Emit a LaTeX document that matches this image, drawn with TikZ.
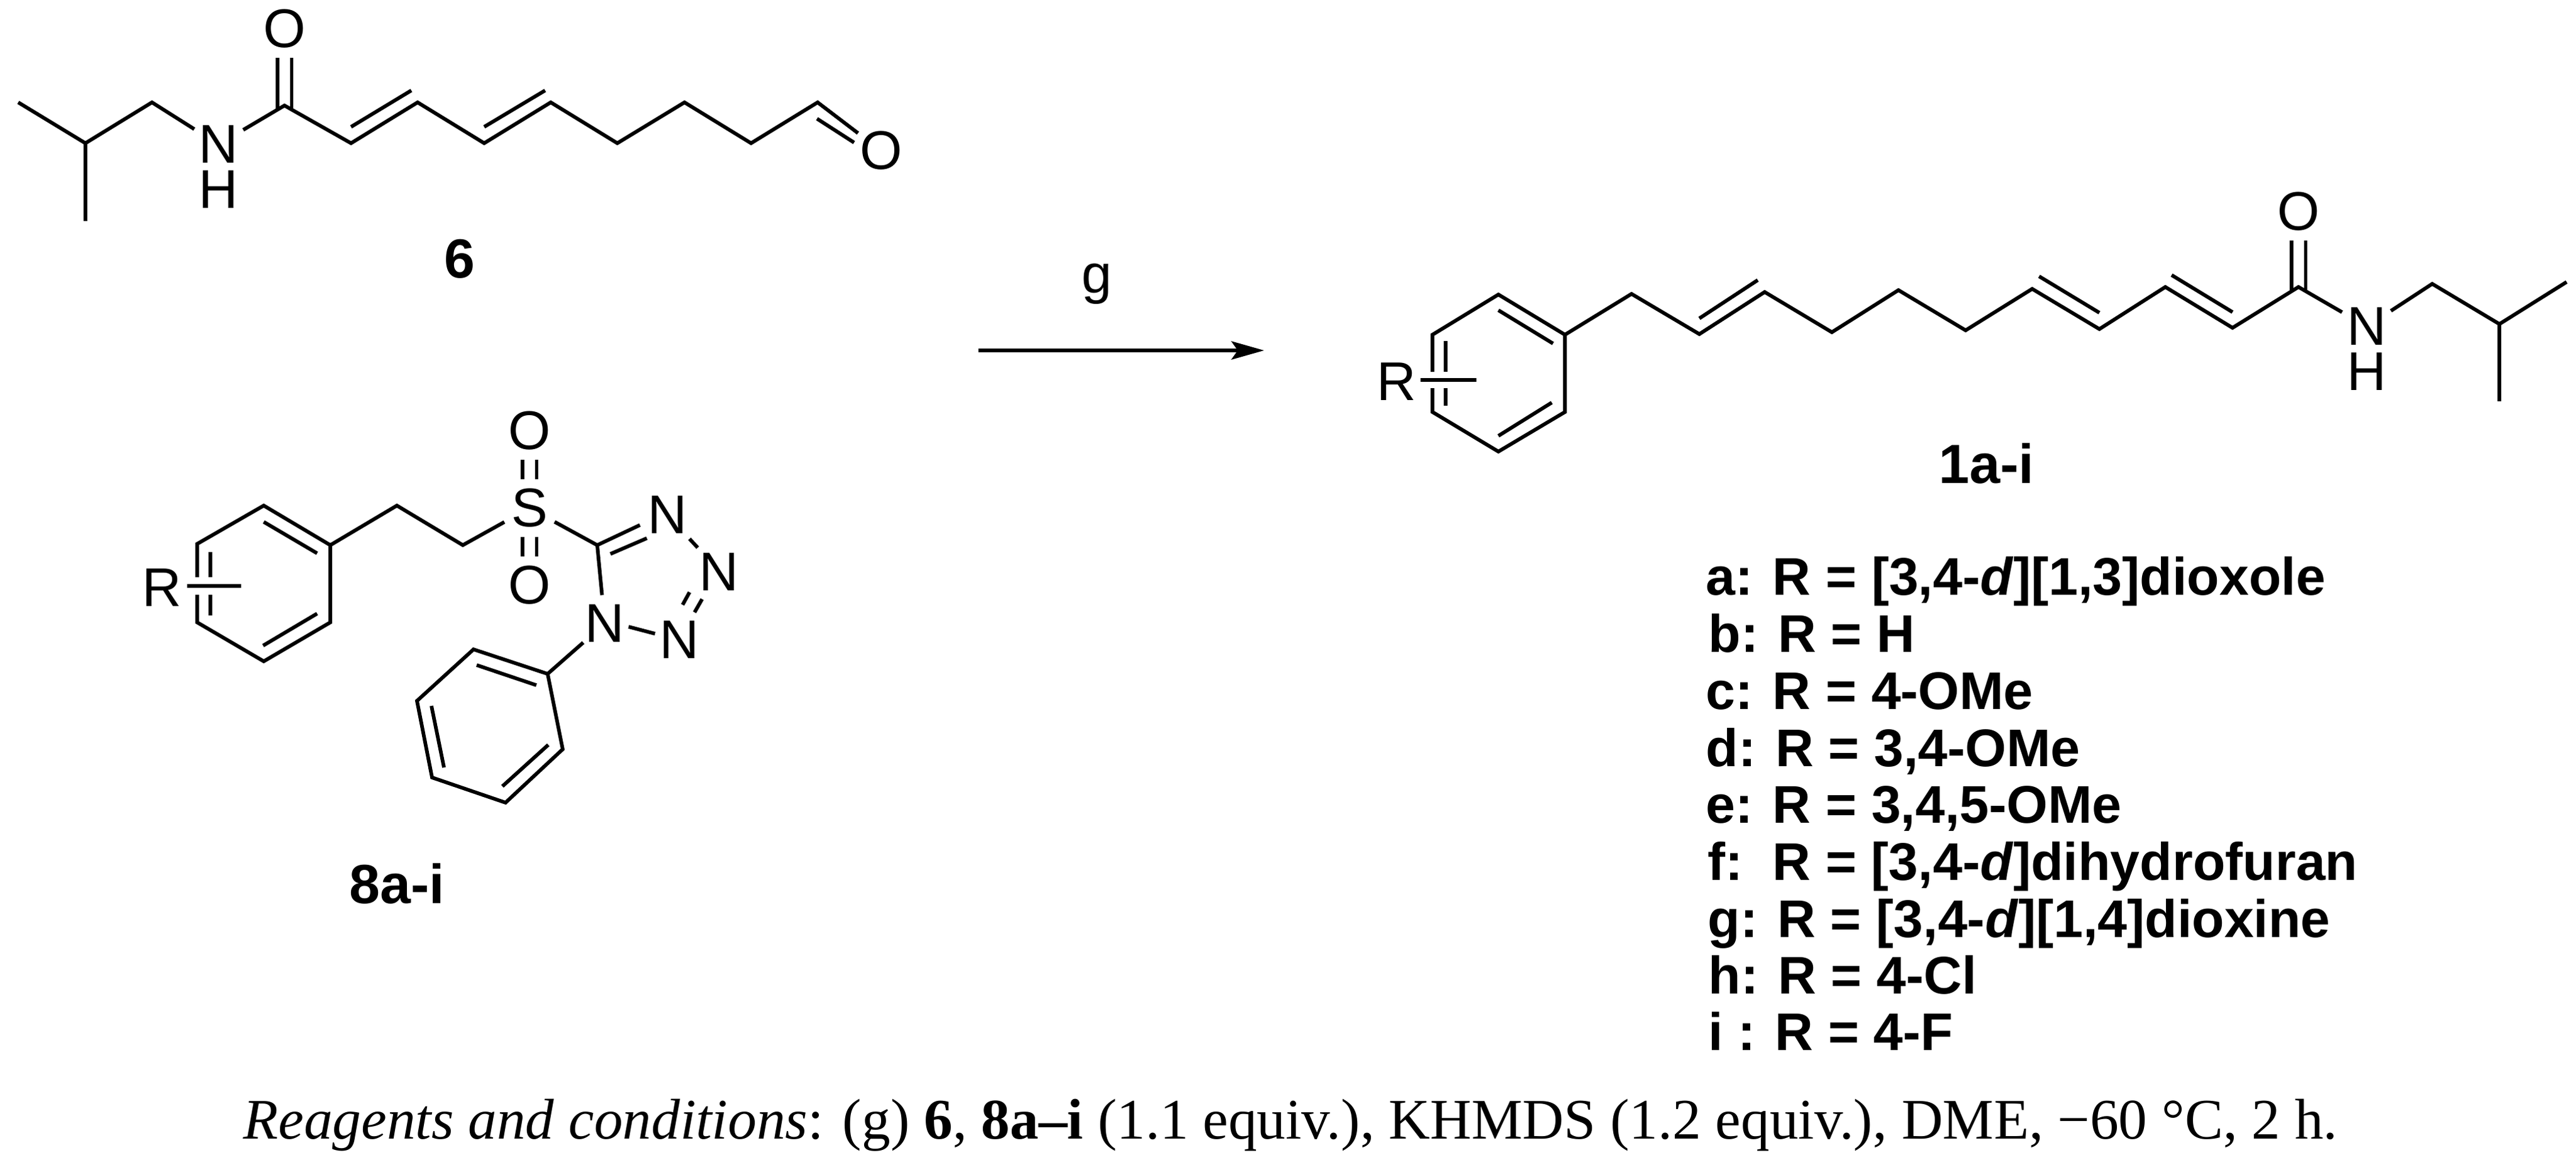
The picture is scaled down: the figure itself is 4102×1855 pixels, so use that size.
\documentclass[tikz,border=0pt]{standalone}
\usepackage{fontspec}
\setmainfont{Liberation Serif}
\setsansfont{Liberation Sans}
\usetikzlibrary{arrows.meta}

\tikzset{
    bond/.style={line width=0.58mm, line join=miter},
    dblbond/.style={line width=0.58mm, double, double distance=1.7mm},
    atom/.style={circle, inner sep=0pt, minimum size=9mm, font=\fontsize{24.7}{26}\sffamily},
    hydrogen/.style={inner sep=0pt, font=\fontsize{24.7}{26}\sffamily},
    compound/.style={inner sep=0pt, font=\fontsize{25}{27}\sffamily\bfseries},
    rgroup/.style={anchor=base west, inner sep=0pt, font=\fontsize{24}{26}\sffamily\bfseries},
    reaction/.style={line width=0.6mm, -{Stealth[length=5.2mm, width=2.9mm, inset=1mm]}}
}

\begin{document}
\begin{tikzpicture}[x=0.1mm, y=-0.1mm]
        \useasboundingbox (0, 0) rectangle (4102, 1855);

        % aldehyde 6
        \foreach \name/\x/\y in {a1/29/163, a2/136/228, a3/136/352, a4/242/163, a5/453/168, a6/559/228,
            a7/665/163, a8/771/228, a9/877/163, a10/983/228, a11/1090/163, a12/1196/228, a13/1302/163,
            a14/559/202, a15/655/144, a16/771/202, a17/868/144, a18/1301/189, a19/1360/227} {
            \coordinate (\name) at (\x, \y);
        }
        \node[atom] (nsix) at (348, 230) {N};
        \node[hydrogen] (hsix) at (348, 302) {H};
        \node[atom] (osix) at (453, 46) {O};
        \node[atom] (alo) at (1403, 240) {O};
        \draw[dblbond, shorten >=-0.8mm] (osix) -- (a5);
        \draw[bond] (a1) -- (a2) -- (a4) -- (nsix);
        \draw[bond] (a2) -- (a3);
        \draw[bond] (nsix) -- (a5) -- (a6) -- (a7) -- (a8) -- (a9) -- (a10) -- (a11) -- (a12) -- (a13) -- (alo);
        \draw[bond] (a14) -- (a15);
        \draw[bond] (a16) -- (a17);
        \draw[bond] (a18) -- (a19);
        \node[compound] (six) at (732, 412) {6};

        % sulfone 8a-i
        \foreach \name/\x/\y in {b1/420/805, b2/526/868, b3/526/991, b4/420/1053, b5/314/991, b6/314/866,
            b7/505/881, b8/420/831, b9/335/879, b10/335/919, b11/335/947, b12/335/980, b13/419/1028, b14/505/977,
            b15/314/919, b16/314/947, b17/298/933, b18/384/933, b19/632/805, b20/737/868, b21/951/868,
            b22/1019/836, b23/972/882, b24/1030/857, b25/1098/858, b26/1111/872, b27/1098/943, b28/1087/963,
            b29/1118/954, b30/1106/975, b31/1001/998, b32/1043/1009} {
            \coordinate (\name) at (\x, \y);
        }
        \foreach \name/\x/\y in {c1/872/1073, c2/754/1034, c3/664/1116, c4/688/1238, c5/805/1278, c6/896/1193,
            c7/759/1059, c8/854/1091, c9/687/1124, c10/707/1222, c11/800/1252, c12/873/1186} {
            \coordinate (\name) at (\x, \y);
        }
        \node[atom] (reight) at (258, 936) {R};
        \node[atom] (sul) at (843, 809) {S};
        \node[atom] (otop) at (843, 686) {O};
        \node[atom] (obot) at (843, 932) {O};
        \node[atom] (ntop) at (1063, 820) {N};
        \node[atom] (nright) at (1145, 911) {N};
        \node[atom] (nlow) at (1082, 1019) {N};
        \node[atom] (nph) at (963, 993) {N};
        \draw[bond] (b15) -- (b6) -- (b1) -- (b2) -- (b3) -- (b4) -- (b5) -- (b16);
        \draw[bond] (b8) -- (b7);
        \draw[bond] (b9) -- (b10);
        \draw[bond] (b11) -- (b12);
        \draw[bond] (b13) -- (b14);
        \draw[bond] (b17) -- (b18);
        \draw[bond] (b2) -- (b19) -- (b20) -- (sul);
        \draw[dblbond] (sul) -- (otop);
        \draw[dblbond] (sul) -- (obot);
        \draw[bond] (sul) -- (b21) -- (b22);
        \draw[bond] (b23) -- (b24);
        \draw[bond] (b21) -- (nph);
        \draw[bond] (b25) -- (b26);
        \draw[bond] (b27) -- (b28);
        \draw[bond] (b29) -- (b30);
        \draw[bond] (b31) -- (b32);
        \draw[bond] (nph) -- (c1) -- (c2) -- (c3) -- (c4) -- (c5) -- (c6) -- (c1);
        \draw[bond] (c7) -- (c8);
        \draw[bond] (c9) -- (c10);
        \draw[bond] (c11) -- (c12);
        \node[compound] (eight) at (632, 1407) {8a-i};

        % reaction arrow
        \coordinate (start) at (1558, 558);
        \coordinate (end) at (2013, 558);
        \draw[reaction] (start) -- (end);
        \node[inner sep=0pt, font=\fontsize{24.7}{26}\sffamily] (reagent) at (1747, 452) {g};

        % product 1a-i
        \foreach \name/\x/\y in {d1/2386/469, d2/2492/533, d3/2492/656, d4/2386/719, d5/2281/656, d6/2281/533,
            d7/2386/494, d8/2473/547, d9/2302/543, d10/2302/592, d11/2302/618, d12/2302/646, d13/2386/694, d14/2471/641,
            d15/2281/592, d16/2281/618, d17/2262/605, d18/2351/605} {
            \coordinate (\name) at (\x, \y);
        }
        \foreach \name/\x/\y in {e1/2598/468, e2/2706/532, e3/2810/465, e4/2917/529, e5/3023/462, e6/3130/526,
            e7/3236/460, e8/3343/524, e9/3448/457, e10/3555/522, e11/3660/457, e12/3873/452, e13/3980/516, e14/4087/449,
            e15/3980/639, e16/2706/507, e17/2799/446, e18/3247/440, e19/3343/498, e20/3458/438, e21/3555/497} {
            \coordinate (\name) at (\x, \y);
        }
        \node[atom] (rone) at (2224, 608) {R};
        \node[atom] (none) at (3769, 520) {N};
        \node[hydrogen] (hone) at (3769, 592) {H};
        \node[atom] (oone) at (3660, 337) {O};
        \draw[bond] (d15) -- (d6) -- (d1) -- (d2) -- (d3) -- (d4) -- (d5) -- (d16);
        \draw[bond] (d7) -- (d8);
        \draw[bond] (d9) -- (d10);
        \draw[bond] (d11) -- (d12);
        \draw[bond] (d13) -- (d14);
        \draw[bond] (d17) -- (d18);
        \draw[dblbond, shorten >=-0.8mm] (oone) -- (e11);
        \draw[bond] (d2) -- (e1) -- (e2) -- (e3) -- (e4) -- (e5) -- (e6) -- (e7) -- (e8) -- (e9) -- (e10) -- (e11) -- (none);
        \draw[bond] (none) -- (e12) -- (e13) -- (e14);
        \draw[bond] (e13) -- (e15);
        \draw[bond] (e16) -- (e17);
        \draw[bond] (e18) -- (e19);
        \draw[bond] (e20) -- (e21);
        \node[compound] (one) at (3163, 738) {1a-i};

        % substituents
        \node[rgroup] (ra) at (2716, 947) {a: R = [3,4-\textit{d}][1,3]dioxole};
        \node[rgroup] (rb) at (2720, 1038) {b: R = H};
        \node[rgroup] (rc) at (2716, 1129) {c: R = 4-OMe};
        \node[rgroup] (rd) at (2716, 1220) {d: R = 3,4-OMe};
        \node[rgroup] (re) at (2716, 1310) {e: R = 3,4,5-OMe};
        \node[rgroup] (rf) at (2719, 1401) {f:\ \ R = [3,4-\textit{d}]dihydrofuran};
        \node[rgroup] (rg) at (2719, 1492) {g: R = [3,4-\textit{d}][1,4]dioxine};
        \node[rgroup] (rh) at (2720, 1582) {h: R = 4-Cl};
        \node[rgroup] (ri) at (2720, 1672) {i : R = 4-F};

        \node[anchor=base west, inner sep=0pt, font=\fontsize{26}{28}\selectfont] (caption) at (387, 1813)
            {\textit{Reagents and conditions}: (g) \textbf{6}, \textbf{8a--i} (1.1 equiv.), KHMDS (1.2 equiv.), DME, −60 °C, 2 h.};
\end{tikzpicture}
\end{document}
